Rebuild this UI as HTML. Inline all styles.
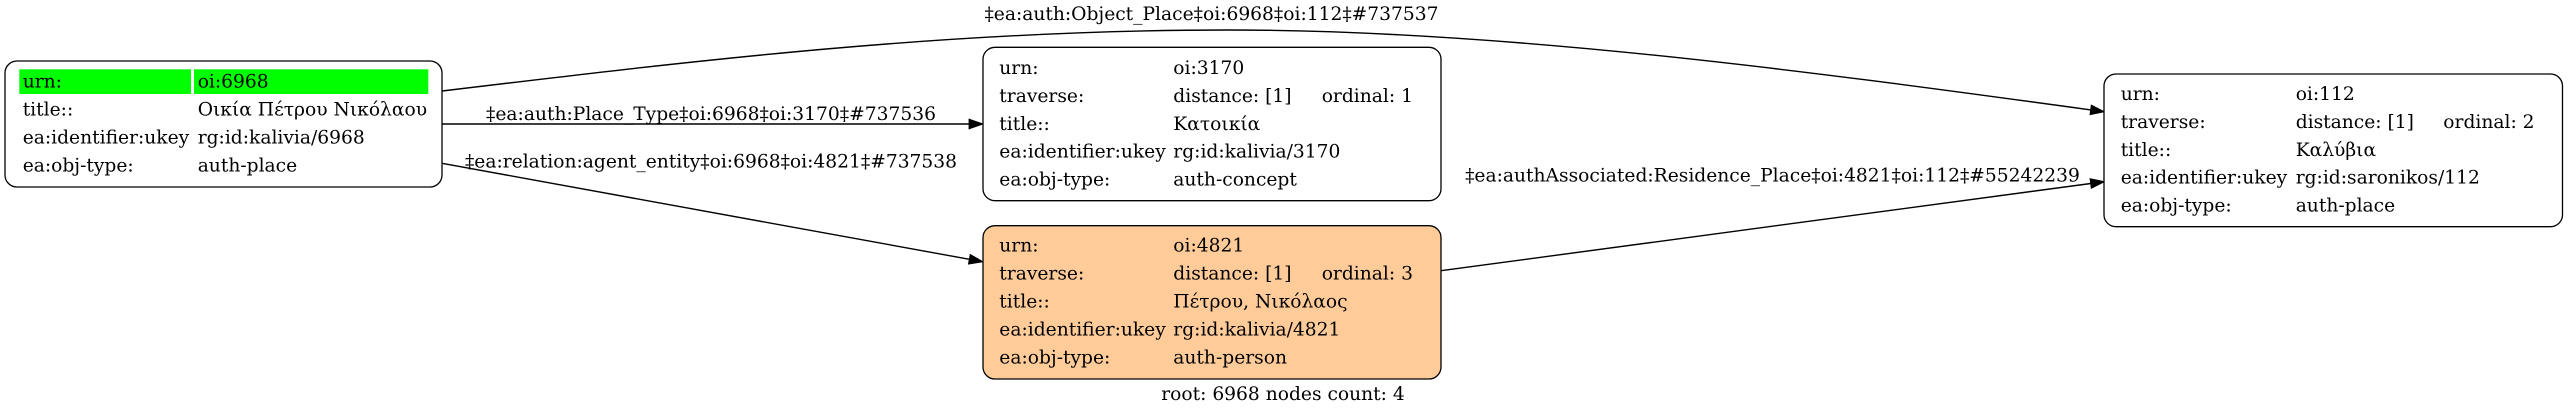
<!DOCTYPE html>
<html>
<head>
<meta charset="utf-8">
<style>
  html, body { margin: 0; padding: 0; background: #ffffff; }
  svg { display: block; }
  text { font-family: "DejaVu Serif", "Liberation Serif", "Noto Serif CJK SC", serif; font-size: 18.67px; fill: #000; }
</style>
</head>
<body>
<svg width="2568" height="416" viewBox="0 0 2568 416" xmlns="http://www.w3.org/2000/svg">
  <rect x="0" y="0" width="2568" height="416" fill="#ffffff"/>

  <!-- Edges -->
  <!-- edge 1: node1 -> node4 (curved) -->
  <path d="M442,91 C700,60 950,30 1228,30 C1500,30 1800,70 2090.8,109.9" fill="none" stroke="#000" stroke-width="1.4"/>
  <polygon points="2104,111.7 2090.2,114.5 2091.4,105.3" fill="#000" stroke="#000" stroke-width="1.2"/>
  <text x="1211.5" y="20" text-anchor="middle">‡ea:auth:Object_Place‡oi:6968‡oi:112‡#737537</text>

  <!-- edge 2: node1 -> node2 -->
  <line x1="442" y1="124" x2="969.5" y2="124" stroke="#000" stroke-width="1.4"/>
  <polygon points="982.5,124 969.2,119.3 969.2,128.7" fill="#000" stroke="#000" stroke-width="1.2"/>
  <text x="711" y="120" text-anchor="middle">‡ea:auth:Place_Type‡oi:6968‡oi:3170‡#737536</text>

  <!-- edge 3: node1 -> node3 -->
  <line x1="442" y1="163.3" x2="969.4" y2="259.3" stroke="#000" stroke-width="1.4"/>
  <polygon points="982.5,261.7 970.3,254.7 968.6,263.9" fill="#000" stroke="#000" stroke-width="1.2"/>
  <text x="711" y="167.5" text-anchor="middle">‡ea:relation:agent_entity‡oi:6968‡oi:4821‡#737538</text>

  <!-- edge 4: node3 -> node4 -->
  <line x1="1441" y1="270.7" x2="2090.8" y2="183.5" stroke="#000" stroke-width="1.4"/>
  <polygon points="2104,181.7 2091.4,188.1 2090.2,178.9" fill="#000" stroke="#000" stroke-width="1.2"/>
  <text x="1772.5" y="181.5" text-anchor="middle">‡ea:authAssociated:Residence_Place‡oi:4821‡oi:112‡#55242239</text>

  <!-- Node 1 (root) -->
  <rect x="5" y="61" width="437" height="126" rx="12" ry="12" fill="#ffffff" stroke="#000" stroke-width="1.3"/>
  <rect x="19.3" y="69.3" width="171.7" height="24.7" fill="#00ff00"/>
  <rect x="194" y="69.3" width="234.3" height="24.7" fill="#00ff00"/>
  <text x="22.7" y="87.7">urn:</text>
  <text x="197.7" y="87.7">oi:6968</text>
  <text x="22.7" y="115.7">title::</text>
  <text x="197.7" y="115.7">Οικία Πέτρου Νικόλαου</text>
  <text x="22.7" y="143.7">ea:identifier:ukey</text>
  <text x="197.7" y="143.7">rg:id:kalivia/6968</text>
  <text x="22.7" y="171.7">ea:obj-type:</text>
  <text x="197.7" y="171.7">auth-place</text>

  <!-- Node 2 -->
  <rect x="983" y="47.3" width="458" height="153.4" rx="12" ry="12" fill="#ffffff" stroke="#000" stroke-width="1.3"/>
  <text x="999.3" y="74">urn:</text>
  <text x="1173.3" y="74">oi:3170</text>
  <text x="999.3" y="101.9">traverse:</text>
  <text x="1173.3" y="101.9">distance: [1]</text>
  <text x="1321.7" y="101.9">ordinal: 1</text>
  <text x="999.3" y="129.8">title::</text>
  <text x="1173.3" y="129.8">Κατοικία</text>
  <text x="999.3" y="157.7">ea:identifier:ukey</text>
  <text x="1173.3" y="157.7">rg:id:kalivia/3170</text>
  <text x="999.3" y="185.6">ea:obj-type:</text>
  <text x="1173.3" y="185.6">auth-concept</text>

  <!-- Node 3 (orange) -->
  <rect x="983" y="225.7" width="458" height="153.3" rx="12" ry="12" fill="#ffcc99" stroke="#000" stroke-width="1.3"/>
  <text x="999.3" y="251.7">urn:</text>
  <text x="1173.3" y="251.7">oi:4821</text>
  <text x="999.3" y="279.6">traverse:</text>
  <text x="1173.3" y="279.6">distance: [1]</text>
  <text x="1321.7" y="279.6">ordinal: 3</text>
  <text x="999.3" y="307.5">title::</text>
  <text x="1173.3" y="307.5">Πέτρου, Νικόλαος</text>
  <text x="999.3" y="335.4">ea:identifier:ukey</text>
  <text x="1173.3" y="335.4">rg:id:kalivia/4821</text>
  <text x="999.3" y="363.3">ea:obj-type:</text>
  <text x="1173.3" y="363.3">auth-person</text>

  <!-- Node 4 -->
  <rect x="2104" y="74" width="458.5" height="152.7" rx="12" ry="12" fill="#ffffff" stroke="#000" stroke-width="1.3"/>
  <text x="2120.7" y="100">urn:</text>
  <text x="2295.7" y="100">oi:112</text>
  <text x="2120.7" y="127.9">traverse:</text>
  <text x="2295.7" y="127.9">distance: [1]</text>
  <text x="2443.3" y="127.9">ordinal: 2</text>
  <text x="2120.7" y="155.8">title::</text>
  <text x="2295.7" y="155.8">Καλύβια</text>
  <text x="2120.7" y="183.7">ea:identifier:ukey</text>
  <text x="2295.7" y="183.7">rg:id:saronikos/112</text>
  <text x="2120.7" y="211.6">ea:obj-type:</text>
  <text x="2295.7" y="211.6">auth-place</text>

  <!-- Graph label -->
  <text x="1283" y="400" text-anchor="middle">root: 6968 nodes count: 4</text>
</svg>
</body>
</html>
